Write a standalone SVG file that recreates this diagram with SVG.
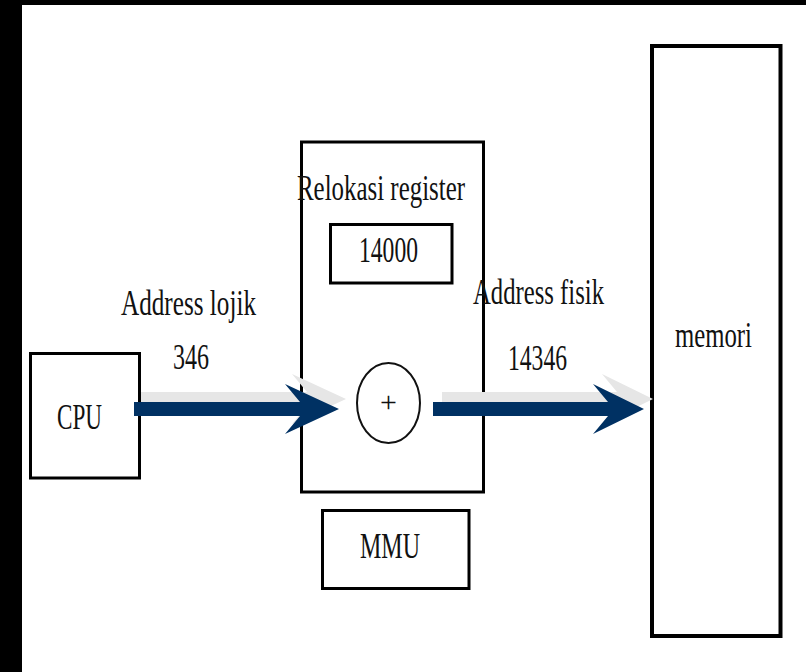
<svg xmlns="http://www.w3.org/2000/svg" width="806" height="672" viewBox="0 0 806 672">
<style>
.box{fill:none;stroke:#000;stroke-width:3}
.t{font-family:"Liberation Serif","Times New Roman",serif;font-size:36px;fill:#111}
.arrow{fill:#003163}
.shadow{fill:#e6e6e6}
</style>
<defs>
<polygon id="arr1" points="134,402 300,402 285,384 339,409 285,434 300,416 134,416"/>
<polygon id="arr2" points="433,402 608,402 593,384 644,409 593,434 608,416 433,416"/>
</defs>
<rect x="0" y="0" width="806" height="672" fill="#fff"/>
<rect x="0" y="0" width="22" height="672" fill="#000"/>
<rect x="0" y="0" width="806" height="5" fill="#000"/>

<g id="cpu">
<rect class="box" x="30.5" y="353.5" width="109" height="124.5"/>
<text class="t" x="57" y="429" textLength="45" lengthAdjust="spacingAndGlyphs">CPU</text>
</g>

<g id="mmu">
<rect class="box" x="301.5" y="142" width="182" height="350"/>
<text class="t" x="297" y="200" textLength="168" lengthAdjust="spacingAndGlyphs">Relokasi register</text>
</g>

<g id="register">
<rect class="box" x="330.5" y="224.5" width="121.5" height="58.5"/>
<text class="t" x="359" y="262" textLength="59" lengthAdjust="spacingAndGlyphs">14000</text>
</g>

<g id="memori">
<rect x="652" y="46" width="128.5" height="590" fill="none" stroke="#000" stroke-width="4"/>
<text class="t" x="675" y="347" textLength="77" lengthAdjust="spacingAndGlyphs">memori</text>
</g>

<g id="mmu-label">
<rect class="box" x="322.5" y="510.5" width="146.5" height="78"/>
<text class="t" x="360" y="558" textLength="60" lengthAdjust="spacingAndGlyphs">MMU</text>
</g>

<g id="connectors">
<use href="#arr1" class="shadow" transform="translate(7,-10)"/>
<use href="#arr1" class="arrow"/>
<use href="#arr2" class="shadow" transform="translate(9,-10)"/>
<use href="#arr2" class="arrow"/>
<text class="t" x="121" y="315" textLength="135" lengthAdjust="spacingAndGlyphs">Address lojik</text>
<text class="t" x="173" y="369" textLength="36" lengthAdjust="spacingAndGlyphs">346</text>
<text class="t" x="473" y="304" textLength="131" lengthAdjust="spacingAndGlyphs">Address fisik</text>
<text class="t" x="508" y="370" textLength="59" lengthAdjust="spacingAndGlyphs">14346</text>
</g>

<g id="adder">
<ellipse cx="388.5" cy="403" rx="31.5" ry="40" fill="#fff" stroke="#111" stroke-width="2"/>
<text x="388.5" y="412" text-anchor="middle" style="font-family:'Liberation Serif','Times New Roman',serif;font-size:30px;fill:#111">+</text>
</g>
</svg>
